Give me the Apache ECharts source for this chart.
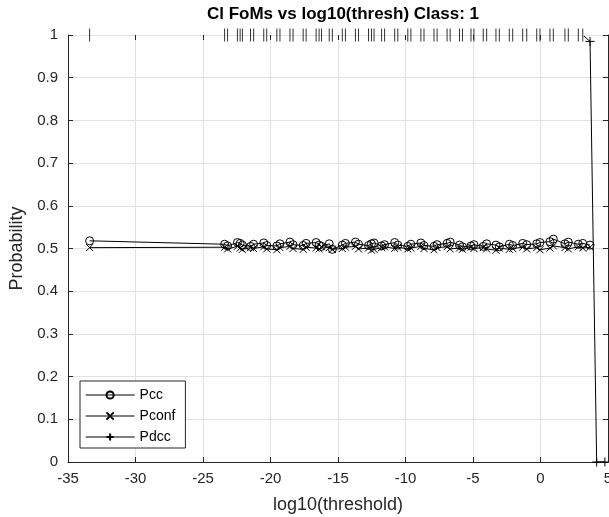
<!DOCTYPE html>
<html>
<head>
<meta charset="utf-8">
<script src="https://cdn.jsdelivr.net/npm/echarts@6/dist/echarts.min.js"></script>
<style>
  html, body { margin: 0; padding: 0; background: #fff; }
  #chart { width: 609px; height: 517px; }
</style>
</head>
<body>
<div id="chart"></div>
<script>
// log10(threshold) positions, shared by the three FoM curves
const thresholds = [-33.40,
  -23.40, -23.18, -22.45, -22.25, -22.08, -21.48, -21.25, -20.50, -20.28, -19.53,
  -19.30, -18.56, -18.33, -17.58, -17.36, -16.62, -16.40, -16.22, -15.65, -15.42,
  -14.68, -14.45, -13.71, -13.48, -12.74, -12.52, -12.33, -11.77, -11.55, -10.80,
  -10.57, -9.83, -9.60, -8.86, -8.63, -7.89, -7.66, -6.92, -6.69, -6.00,
  -5.78, -5.15, -4.93, -4.24, -3.99, -3.30, -3.05, -2.31, -2.06, -1.32,
  -1.02, -0.28, -0.04, 0.70, 0.95, 1.81, 2.06, 2.80, 3.13,
  3.67];

const pcc = [0.518,
  0.510, 0.506, 0.514, 0.512, 0.508, 0.505, 0.510, 0.513, 0.507, 0.506,
  0.511, 0.515, 0.509, 0.507, 0.512, 0.514, 0.508, 0.505, 0.511, 0.498,
  0.508, 0.512, 0.515, 0.510, 0.507, 0.511, 0.513, 0.506, 0.509, 0.514,
  0.508, 0.505, 0.510, 0.513, 0.507, 0.505, 0.509, 0.512, 0.515, 0.508,
  0.504, 0.506, 0.509, 0.505, 0.511, 0.508, 0.504, 0.510, 0.507, 0.512,
  0.509, 0.511, 0.514, 0.516, 0.522, 0.511, 0.515, 0.510, 0.512,
  0.508];

const pconf = [0.502,
  0.503, 0.499, 0.505, 0.501, 0.498, 0.502, 0.500, 0.504, 0.499, 0.497,
  0.502, 0.505, 0.500, 0.498, 0.503, 0.501, 0.499, 0.504, 0.502, 0.498,
  0.500, 0.503, 0.505, 0.499, 0.501, 0.496, 0.498, 0.502, 0.504, 0.500,
  0.503, 0.499, 0.501, 0.505, 0.500, 0.497, 0.502, 0.504, 0.499, 0.501,
  0.498, 0.503, 0.500, 0.502, 0.499, 0.496, 0.501, 0.498, 0.500, 0.503,
  0.499, 0.502, 0.497, 0.501, 0.506, 0.502, 0.499, 0.504, 0.501,
  0.503];

const pdcc = [1,
  1, 1, 1, 1, 1, 1, 1, 1, 1, 1,
  1, 1, 1, 1, 1, 1, 1, 1, 1, 1,
  1, 1, 1, 1, 1, 1, 1, 1, 1, 1,
  1, 1, 1, 1, 1, 1, 1, 1, 1, 1,
  1, 1, 1, 1, 1, 1, 1, 1, 1, 1,
  1, 1, 1, 1, 1, 1, 1, 1, 1,
  0.985];
// Pdcc carries on past the other two
const pdccTailX = [4.16, 4.77];
const pdccTail = [0, 0];

const xTicks = ['-35', '-30', '-25', '-20', '-15', '-10', '-5', '0', '5'];

const FONT = '"Liberation Sans", Arial, Helvetica, sans-serif';
const AXIS = '#262626';
const GRIDC = '#e2e2e2';

const zip = (xs, ys) => xs.map((x, i) => [x, ys[i]]);

const crossPath = 'path://M0,0L10,10M10,0L0,10';
const plusPath = 'path://M5,0L5,10M0,5L10,5';

let myChart = echarts.init(document.getElementById('chart'));

let lineSeries = function(name, data, symbol, size){
  return {
    name: name,
    type: 'line',
    data: data,
    symbol: symbol,
    symbolSize: size,
    showAllSymbol: true,
    clip: true,
    animation: false,
    lineStyle: { color: '#000', width: 1 },
    itemStyle: { color: 'rgba(0,0,0,0)', borderColor: '#000', borderWidth: 1 },
    emphasis: { disabled: true }
  };
};

// points sitting on the top edge only show their vertical stroke
let pdccData = zip(thresholds, pdcc).concat(zip(pdccTailX, pdccTail)).map(function(p){
  if(p[1] === 1){
    return { value: p, symbol: 'rect', symbolSize: [1, 13], itemStyle: { color: '#333', borderWidth: 0 } };
  }
  return { value: p };
});

let pdccSeries = lineSeries('Pdcc', pdccData, plusPath, 9);
// the run along y = 1 is hidden by the box edge in the original
pdccSeries.lineStyle.color = new echarts.graphic.LinearGradient(0, 33, 0, 38, [
  { offset: 0, color: 'rgba(0,0,0,0)' },
  { offset: 0.66, color: 'rgba(0,0,0,0)' },
  { offset: 0.7, color: '#000' },
  { offset: 1, color: '#000' }
], true);

let legendLine = { color: '#000', width: 1.2 };

let option = {
  backgroundColor: '#fff',
  animation: false,
  title: {
    text: 'Cl FoMs vs log10(thresh) Class: 1',
    left: 338,
    textAlign: 'center',
    top: 1,
    textStyle: { fontFamily: FONT, fontSize: 17, fontWeight: 'bold', color: '#000' }
  },
  legend: {
    orient: 'vertical',
    left: 80,
    top: 381,
    itemWidth: 49,
    itemHeight: 9,
    itemGap: 7,
    padding: [7, 10, 4, 5],
    borderColor: AXIS,
    borderWidth: 1,
    backgroundColor: '#fff',
    textStyle: { fontFamily: FONT, fontSize: 14, lineHeight: 14, color: '#000' },
    data: [
      { name: 'Pcc', lineStyle: legendLine },
      { name: 'Pconf', lineStyle: legendLine },
      { name: 'Pdcc', lineStyle: legendLine }
    ]
  },
  grid: { left: 68, right: 1, top: 35, bottom: 55, outerBoundsMode: 'none', containLabel: false },
  xAxis: [
    {
      type: 'value',
      min: -35, max: 5, interval: 5,
      name: 'log10(threshold)',
      nameLocation: 'middle',
      nameGap: 34,
      nameTextStyle: { fontFamily: FONT, fontSize: 18, color: AXIS },
      axisLine: { onZero: false, lineStyle: { color: AXIS, width: 1 } },
      axisTick: { inside: true, length: 5, lineStyle: { color: AXIS } },
      axisLabel: {
        fontFamily: FONT, fontSize: 15, color: AXIS, margin: 9,
        formatter: v => xTicks[Math.round((v + 35) / 5)]
      },
      splitLine: { show: true, lineStyle: { color: GRIDC, width: 1 } }
    },
    {
      type: 'value',
      position: 'top',
      min: -35, max: 5, interval: 5,
      axisLine: { show: false, onZero: false },
      axisTick: { inside: true, length: 5, lineStyle: { color: AXIS } },
      axisLabel: { show: false },
      splitLine: { show: false }
    }
  ],
  yAxis: [
    {
      type: 'value',
      min: 0, max: 1, interval: 0.1,
      name: 'Probability',
      nameLocation: 'middle',
      nameGap: 40,
      nameTextStyle: { fontFamily: FONT, fontSize: 18, color: AXIS },
      axisLine: { onZero: false, lineStyle: { color: AXIS, width: 1 } },
      axisTick: { inside: true, length: 5, lineStyle: { color: AXIS } },
      axisLabel: {
        fontFamily: FONT, fontSize: 15, color: AXIS, margin: 10,
        formatter: v => (Math.round(v * 10) / 10).toString()
      },
      splitLine: { show: true, lineStyle: { color: GRIDC, width: 1 } }
    },
    {
      type: 'value',
      position: 'right',
      min: 0, max: 1, interval: 0.1,
      axisLine: { show: true, onZero: false, lineStyle: { color: AXIS, width: 1 } },
      axisTick: { inside: true, length: 5, lineStyle: { color: AXIS } },
      axisLabel: { show: false },
      splitLine: { show: false }
    }
  ],
  series: [
    lineSeries('Pcc', zip(thresholds, pcc), 'circle', 8),
    lineSeries('Pconf', zip(thresholds, pconf), crossPath, 7),
    pdccSeries
  ]
};

myChart.setOption(option);
</script>
</body>
</html>
